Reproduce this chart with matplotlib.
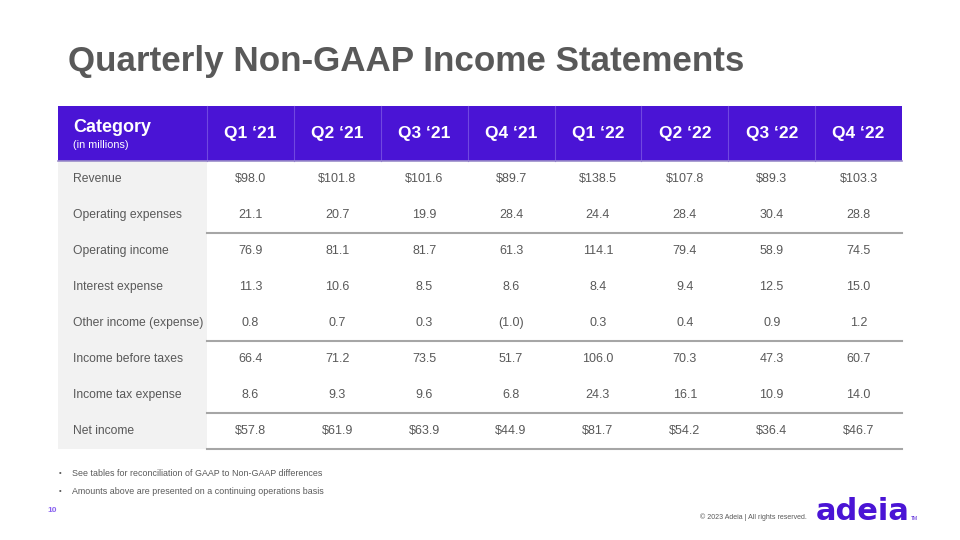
import matplotlib.pyplot as plt
from matplotlib.patches import Rectangle

plt.rcParams['font.family'] = ['Liberation Sans', 'DejaVu Sans']

quarters = ["Q1 \u201821", "Q2 \u201821", "Q3 \u201821", "Q4 \u201821",
            "Q1 \u201822", "Q2 \u201822", "Q3 \u201822", "Q4 \u201822"]
categories = ["Revenue", "Operating expenses", "Operating income", "Interest expense",
              "Other income (expense)", "Income before taxes", "Income tax expense", "Net income"]
revenue = [98.0, 101.8, 101.6, 89.7, 138.5, 107.8, 89.3, 103.3]
operating_expenses = [21.1, 20.7, 19.9, 28.4, 24.4, 28.4, 30.4, 28.8]
operating_income = [76.9, 81.1, 81.7, 61.3, 114.1, 79.4, 58.9, 74.5]
interest_expense = [11.3, 10.6, 8.5, 8.6, 8.4, 9.4, 12.5, 15.0]
other_income = [0.8, 0.7, 0.3, -1.0, 0.3, 0.4, 0.9, 1.2]
income_before_taxes = [66.4, 71.2, 73.5, 51.7, 106.0, 70.3, 47.3, 60.7]
income_tax = [8.6, 9.3, 9.6, 6.8, 24.3, 16.1, 10.9, 14.0]
net_income = [57.8, 61.9, 63.9, 44.9, 81.7, 54.2, 36.4, 46.7]
dollar_rows = {"Revenue", "Net income"}
notes = ["See tables for reconciliation of GAAP to Non-GAAP differences",
         "Amounts above are presented on a continuing operations basis"]

rows = [revenue, operating_expenses, operating_income, interest_expense,
        other_income, income_before_taxes, income_tax, net_income]

PURPLE = "#4A14D5"
GRAY = "#595959"

def fmt(v, dollar):
    s = f"{abs(v):.1f}"
    if dollar:
        s = "$" + s
    return f"({s})" if v < 0 else s

fig = plt.figure(figsize=(9.6, 5.4), dpi=100)
ax = fig.add_axes([0, 0, 1, 1])
ax.set_xlim(0, 960)
ax.set_ylim(540, 0)
ax.axis("off")

# title
ax.text(68, 61, "Quarterly Non-GAAP Income Statements", fontsize=25.2, fontweight="bold",
        color=GRAY, va="center", ha="left")

# table geometry
left, first_col, right = 58, 207, 902
col_w = (right - first_col) / len(quarters)
top, head_bot = 106, 161
row_h = 36
table_bot = head_bot + row_h * len(categories)

ax.add_patch(Rectangle((left, top), right - left, head_bot - top, color=PURPLE, lw=0))
ax.add_patch(Rectangle((left, head_bot), first_col - left, table_bot - head_bot,
                       color="#F2F2F2", lw=0))
for i in range(len(quarters)):
    x0 = first_col + i * col_w
    ax.plot([x0, x0], [top, head_bot], color="#7048E0", lw=0.8)
    ax.text(x0 + col_w / 2, (top + head_bot) / 2, quarters[i], color="white",
            fontsize=12.5, fontweight="bold", ha="center", va="center")
ax.plot([left, right], [head_bot, head_bot], color="#9A8CC8", lw=1.2)

ax.text(73, 128, "Category", color="white", fontsize=13, fontweight="bold",
        ha="left", va="center")
ax.text(73, 145, "(in millions)", color="white", fontsize=7.8, ha="left", va="center")

for r, (cat, vals) in enumerate(zip(categories, rows)):
    y = head_bot + r * row_h + row_h / 2
    ax.text(73, y, cat, color=GRAY, fontsize=8.7, ha="left", va="center")
    for i, v in enumerate(vals):
        ax.text(first_col + i * col_w + col_w / 2, y, fmt(v, cat in dollar_rows),
                color=GRAY, fontsize=9, ha="center", va="center")

for r in (2, 5, 7, 8):
    y = head_bot + r * row_h
    ax.plot([first_col, right], [y, y], color="#A6A6A6", lw=1.5)

# notes
for k, note in enumerate(notes):
    y = 474 + k * 18
    ax.text(59, y, "\u2022", color=GRAY, fontsize=5.5, ha="left", va="center")
    ax.text(72, y, note, color=GRAY, fontsize=6.4, ha="left", va="center")

ax.text(47, 511, "10", color="#8A63F0", fontsize=6, fontweight="bold", ha="left", va="center")
ax.text(700, 517, "\u00a9 2023 Adeia | All rights reserved.", color=GRAY, fontsize=5,
        ha="left", va="center")
ax.text(816, 511, "adeia", color=PURPLE, fontsize=22, fontweight="bold", ha="left",
        va="center", family=["DejaVu Sans"])
ax.text(911, 519, "TM", color=PURPLE, fontsize=3.5, ha="left", va="center")

fig.savefig("out.png", dpi=100)
